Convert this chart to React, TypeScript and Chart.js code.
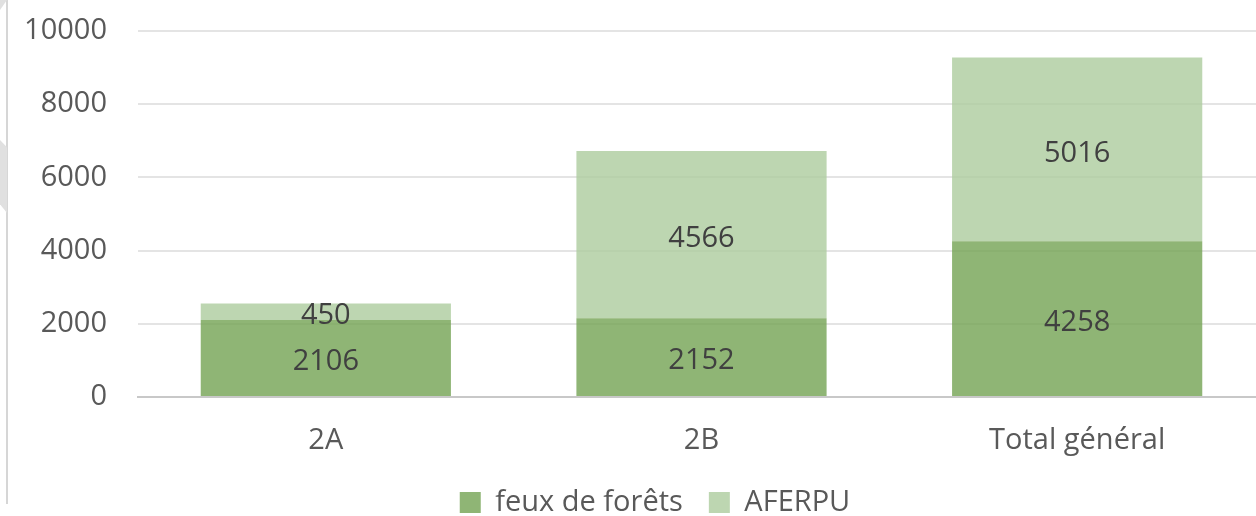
import React, { useEffect, useRef } from "react";
import { Chart, registerables } from "chart.js";

Chart.register(...registerables);

const categories = ["2A", "2B", "Total général"];
const feuxDeForets = [2106, 2152, 4258];
const aferpu = [450, 4566, 5016];
const yMin = 0;
const yMax = 10000;
const yStep = 2000;

const FONT = "'Open Sans', 'Noto Sans', sans-serif";
const FS = 29;

const segmentLabels = {
  id: "segmentLabels",
  afterDatasetsDraw(chart: any) {
    const ctx = chart.ctx;
    ctx.save();
    ctx.font = `${FS}px ${FONT}`;
    ctx.fillStyle = "#404040";
    ctx.textAlign = "center";
    ctx.textBaseline = "middle";
    chart.data.datasets.forEach((ds: any, i: number) => {
      const meta = chart.getDatasetMeta(i);
      meta.data.forEach((bar: any, j: number) => {
        const p = bar.getProps(["x", "y", "base"], true);
        ctx.fillText(String(ds.data[j]), p.x, (p.y + p.base) / 2 + 4);
      });
    });
    ctx.restore();
  },
};

const legendShift = {
  id: "legendShift",
  afterLayout(chart: any) {
    if (chart.legend) chart.legend.left += 45;
  },
};

export default function App() {
  const ref = useRef<HTMLCanvasElement | null>(null);

  useEffect(() => {
    if (!ref.current) return;
    const chart = new Chart(ref.current, {
      type: "bar",
      data: {
        labels: categories,
        datasets: [
          {
            label: "feux de forêts",
            data: feuxDeForets,
            backgroundColor: "rgba(115,163,83,0.8)",
            borderWidth: 0,
          },
          {
            label: "AFERPU",
            data: aferpu,
            backgroundColor: "rgba(172,204,157,0.8)",
            borderWidth: 0,
          },
        ],
      },
      options: {
        responsive: false,
        animation: false,
        layout: { padding: { top: 31, right: 0, bottom: 0, left: 0 } },
        datasets: {
          bar: { barPercentage: 1, categoryPercentage: 0.666 },
        },
        scales: {
          x: {
            stacked: true,
            grid: { display: false, drawTicks: false },
            border: { display: true, color: "#c8c8c8", width: 2 },
            ticks: {
              color: "#595959",
              font: { family: FONT, size: FS },
              padding: 26,
            },
            afterFit(scale: any) {
              scale.height = 65;
            },
          },
          y: {
            stacked: true,
            min: yMin,
            max: yMax,
            ticks: {
              stepSize: yStep,
              color: "#595959",
              font: { family: FONT, size: FS },
              padding: 31,
              callback: (v: any) => String(v),
            },
            grid: { color: "#e4e4e4", lineWidth: 2, drawTicks: false },
            border: { display: false },
            afterFit(scale: any) {
              scale.width = 138;
              scale.paddingTop = 0;
              scale.paddingBottom = 0;
            },
          },
        },
        plugins: {
          legend: {
            position: "bottom",
            labels: {
              color: "#595959",
              font: { family: FONT, size: FS },
              boxWidth: 21,
              boxHeight: 21,
              padding: 26,
            },
          },
          tooltip: { enabled: false },
        },
      },
      plugins: [segmentLabels, legendShift],
    });
    return () => chart.destroy();
  }, []);

  return (
    <div
      style={{
        position: "fixed",
        left: 0,
        top: 0,
        width: 1256,
        height: 516,
        overflow: "hidden",
        background: "#ffffff",
      }}
    >
      <canvas
        ref={ref}
        width={1265}
        height={527}
        style={{ position: "absolute", left: 0, top: 0, width: 1265, height: 527 }}
      />
      <div
        style={{
          position: "absolute",
          left: 6,
          top: 0,
          width: 2,
          height: 504,
          background: "#d6d6d6",
        }}
      />
      <div
        style={{
          position: "absolute",
          left: 0,
          top: 140,
          width: 7,
          height: 73,
          background: "#e0e0e0",
          clipPath: "polygon(0 0, 100% 10%, 100% 100%, 0 88%)",
        }}
      />
      <div
        style={{
          position: "absolute",
          left: 0,
          top: 0,
          width: 7,
          height: 10,
          background: "#e0e0e0",
          clipPath: "polygon(0 0, 100% 0, 0 100%)",
        }}
      />
    </div>
  );
}
